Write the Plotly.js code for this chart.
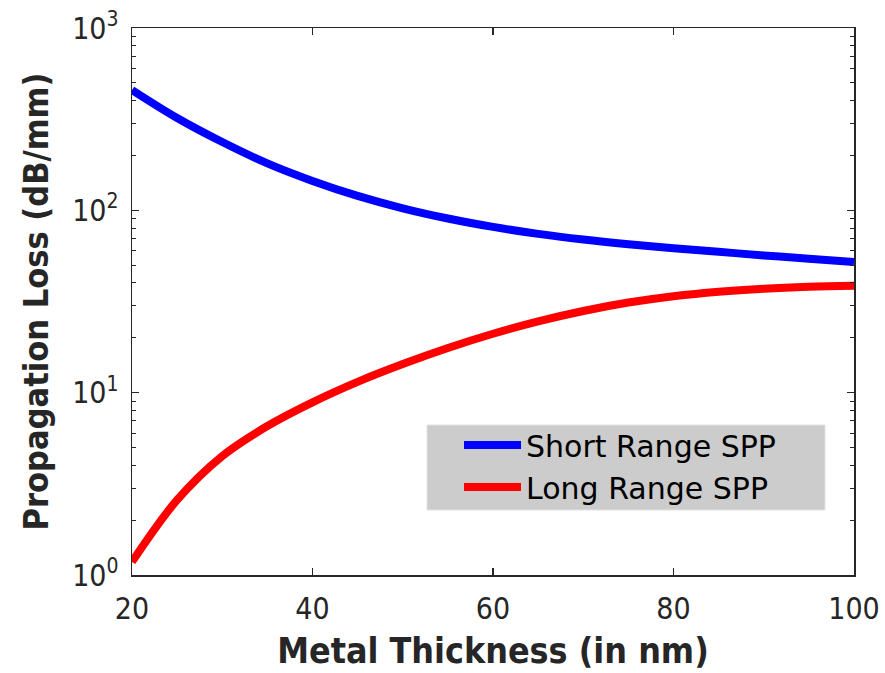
<!DOCTYPE html>
<html>
<head>
<meta charset="utf-8">
<script src="https://cdn.plot.ly/plotly-3.0.1.min.js"></script>
<style>html,body{margin:0;padding:0;background:#fff;}#chart{width:885px;height:673px;}</style>
</head>
<body>
<div id="chart"></div>
<script>
const thickness = [20, 25, 30, 35, 40, 45, 50, 55, 60, 65, 70, 75, 80, 85, 90, 95, 100];
const shortRangeLoss = [457, 321, 237, 181, 145, 120, 102.6, 90.2, 81.1, 74.3, 69.2, 65.2, 61.9, 59.2, 56.6, 54.3, 52.1];
const longRangeLoss = [1.18, 2.58, 4.49, 6.56, 8.85, 11.46, 14.35, 17.58, 21.04, 24.6, 28.05, 31.2, 33.8, 35.8, 37.2, 38.1, 38.6];
const seriesNames = ['Short Range SPP', 'Long Range SPP'];
const yTickVals = [1, 10, 100, 1000];
const yTickText = ['10<sup>0</sup>', '10<sup>1</sup>', '10<sup>2</sup>', '10<sup>3</sup>'];
const xTickVals = [20, 40, 60, 80, 100];
const yMinorVals = [2,3,4,5,6,7,8,9,20,30,40,50,60,70,80,90,200,300,400,500,600,700,800,900];

const axisColor = '#262626';
const condensed = '"DejaVu Sans Condensed", "DejaVu Sans", sans-serif';
const tickFont = {size: 30, family: condensed, color: axisColor};
const xTitleFont = {size: 35.5, family: condensed, color: axisColor, weight: 'bold'};
const yTitleFont = {size: 34, family: condensed, color: axisColor, weight: 'bold'};

const traces = [
  {x: thickness, y: shortRangeLoss, name: seriesNames[0], mode: 'lines', legendgroup: 'a',
   line: {color: '#0000ff', width: 8, shape: 'spline'}},
  {x: thickness, y: longRangeLoss, name: seriesNames[1], mode: 'lines', legendgroup: 'b',
   line: {color: '#ff0000', width: 8, shape: 'spline'}}
];
const W = 885, H = 673, mL = 132, mR = 31, mT = 28, mB = 98;
const pw = W - mL - mR, ph = H - mT - mB;
const px = v => (v - mL) / pw;
const py = v => (H - mB - v) / ph;

const layout = {
  width: W, height: H,
  margin: {l: mL, r: mR, t: mT, b: mB},
  paper_bgcolor: '#ffffff', plot_bgcolor: '#ffffff',
  font: {family: '"DejaVu Sans", sans-serif', color: axisColor, size: 26},
  xaxis: {
    range: [20, 100], tickvals: xTickVals, showgrid: false, zeroline: false,
    showline: true, linecolor: axisColor, linewidth: 1.5, mirror: 'ticks',
    ticks: 'inside', ticklen: 7, tickwidth: 1.5, tickcolor: axisColor,
    tickfont: tickFont, ticklabelstandoff: 6,
    title: {text: 'Metal Thickness (in nm)', font: xTitleFont, standoff: 13}
  },
  yaxis: {
    type: 'log', range: [0, 3], tickvals: yTickVals, ticktext: yTickText,
    showgrid: false, zeroline: false,
    showline: true, linecolor: axisColor, linewidth: 1.5, mirror: 'ticks',
    ticks: 'inside', ticklen: 7, tickwidth: 1.5, tickcolor: axisColor,
    minor: {ticks: 'inside', ticklen: 4, tickwidth: 1, tickcolor: axisColor, showgrid: false,
            tickvals: yMinorVals},
    tickfont: tickFont, ticklabelstandoff: 6,
    title: {text: 'Propagation Loss (dB/mm)', font: yTitleFont, standoff: 13}
  },
  shapes: [{
    type: 'rect', xref: 'paper', yref: 'paper', layer: 'below',
    x0: px(427), x1: px(825), y0: py(510), y1: py(425),
    fillcolor: '#cccccc', line: {color: '#e2e2e2', width: 1}
  }],
  showlegend: true,
  legend: {
    x: px(459), y: py(419), xanchor: 'left', yanchor: 'top',
    bgcolor: 'rgba(0,0,0,0)', borderwidth: 0,
    font: {size: 30, family: '"DejaVu Sans", sans-serif', color: '#000000'},
    itemwidth: 57, tracegroupgap: 0
  }
};
Plotly.newPlot('chart', traces, layout, {displayModeBar: false, staticPlot: true});
</script>
</body>
</html>
